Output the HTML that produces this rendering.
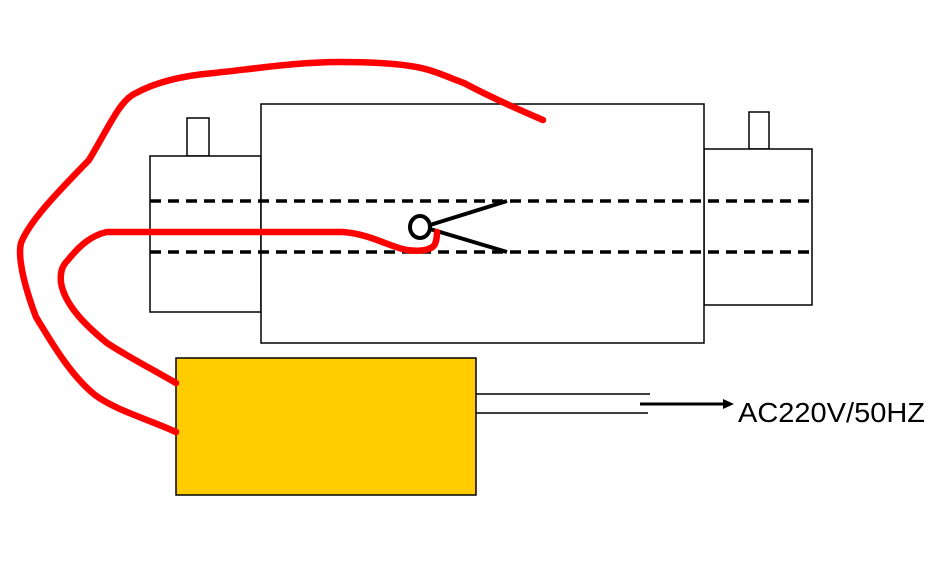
<!DOCTYPE html>
<html><head><style>html,body{margin:0;padding:0;background:#fff;}svg{display:block}</style></head>
<body>
<svg width="951" height="563" viewBox="0 0 951 563" xmlns="http://www.w3.org/2000/svg">
<g fill="#fff" stroke="#000" stroke-width="1.5">
<rect x="187" y="118" width="22" height="38"/>
<rect x="150" y="156" width="111" height="156"/>
<rect x="749" y="112" width="20" height="37"/>
<rect x="704" y="149" width="108" height="156"/>
<rect x="261" y="104" width="443" height="239"/>
</g>
<g stroke="#000" stroke-width="3.5" stroke-dasharray="11,7">
<line x1="150" y1="201" x2="814" y2="201"/>
<line x1="150" y1="252" x2="814" y2="252"/>
</g>
<rect x="176" y="358" width="300" height="137" fill="#FFCC00" stroke="#000" stroke-width="1.5"/>
<g stroke="#000" stroke-width="1.5">
<line x1="476" y1="394" x2="650" y2="394"/>
<line x1="476" y1="413" x2="648" y2="413"/>
</g>
<line x1="640" y1="404" x2="725" y2="404" stroke="#000" stroke-width="3"/>
<polygon points="723,399 734,404 723,409" fill="#000"/>
<text x="738" y="422" font-family="Liberation Sans, sans-serif" font-size="28" textLength="187" lengthAdjust="spacingAndGlyphs" fill="#000">AC220V/50HZ</text>
<g fill="none" stroke="#000" stroke-width="4">
<ellipse cx="420" cy="227" rx="10" ry="11"/>
<line x1="430" y1="225" x2="507" y2="201"/>
<line x1="430" y1="229" x2="507" y2="252"/>
</g>
<g fill="none" stroke="#f00" stroke-width="6.5" stroke-linecap="round" stroke-linejoin="round">
<path d="M176,432 C150,420 115,410 95,395 C70,375 50,340 36,317 C22,280 18,255 21,243 C30,220 60,190 89,160 C110,125 120,100 136,93 C160,80 190,75 214,73 C260,68 300,62 339,62 C380,62 410,64 429,70 C445,75 455,80 464,83 C490,97 515,108 543,120"/>
<path d="M176,383 C150,368 125,355 107,343 C85,325 65,305 61,283 C60,272 62,266 68,260 C80,245 92,235 107,232 L343,232 C370,234 390,247 407,250 C420,252 432,250 435,244 C437,239 437,235 437,232"/>
</g>
</svg>
</body></html>
